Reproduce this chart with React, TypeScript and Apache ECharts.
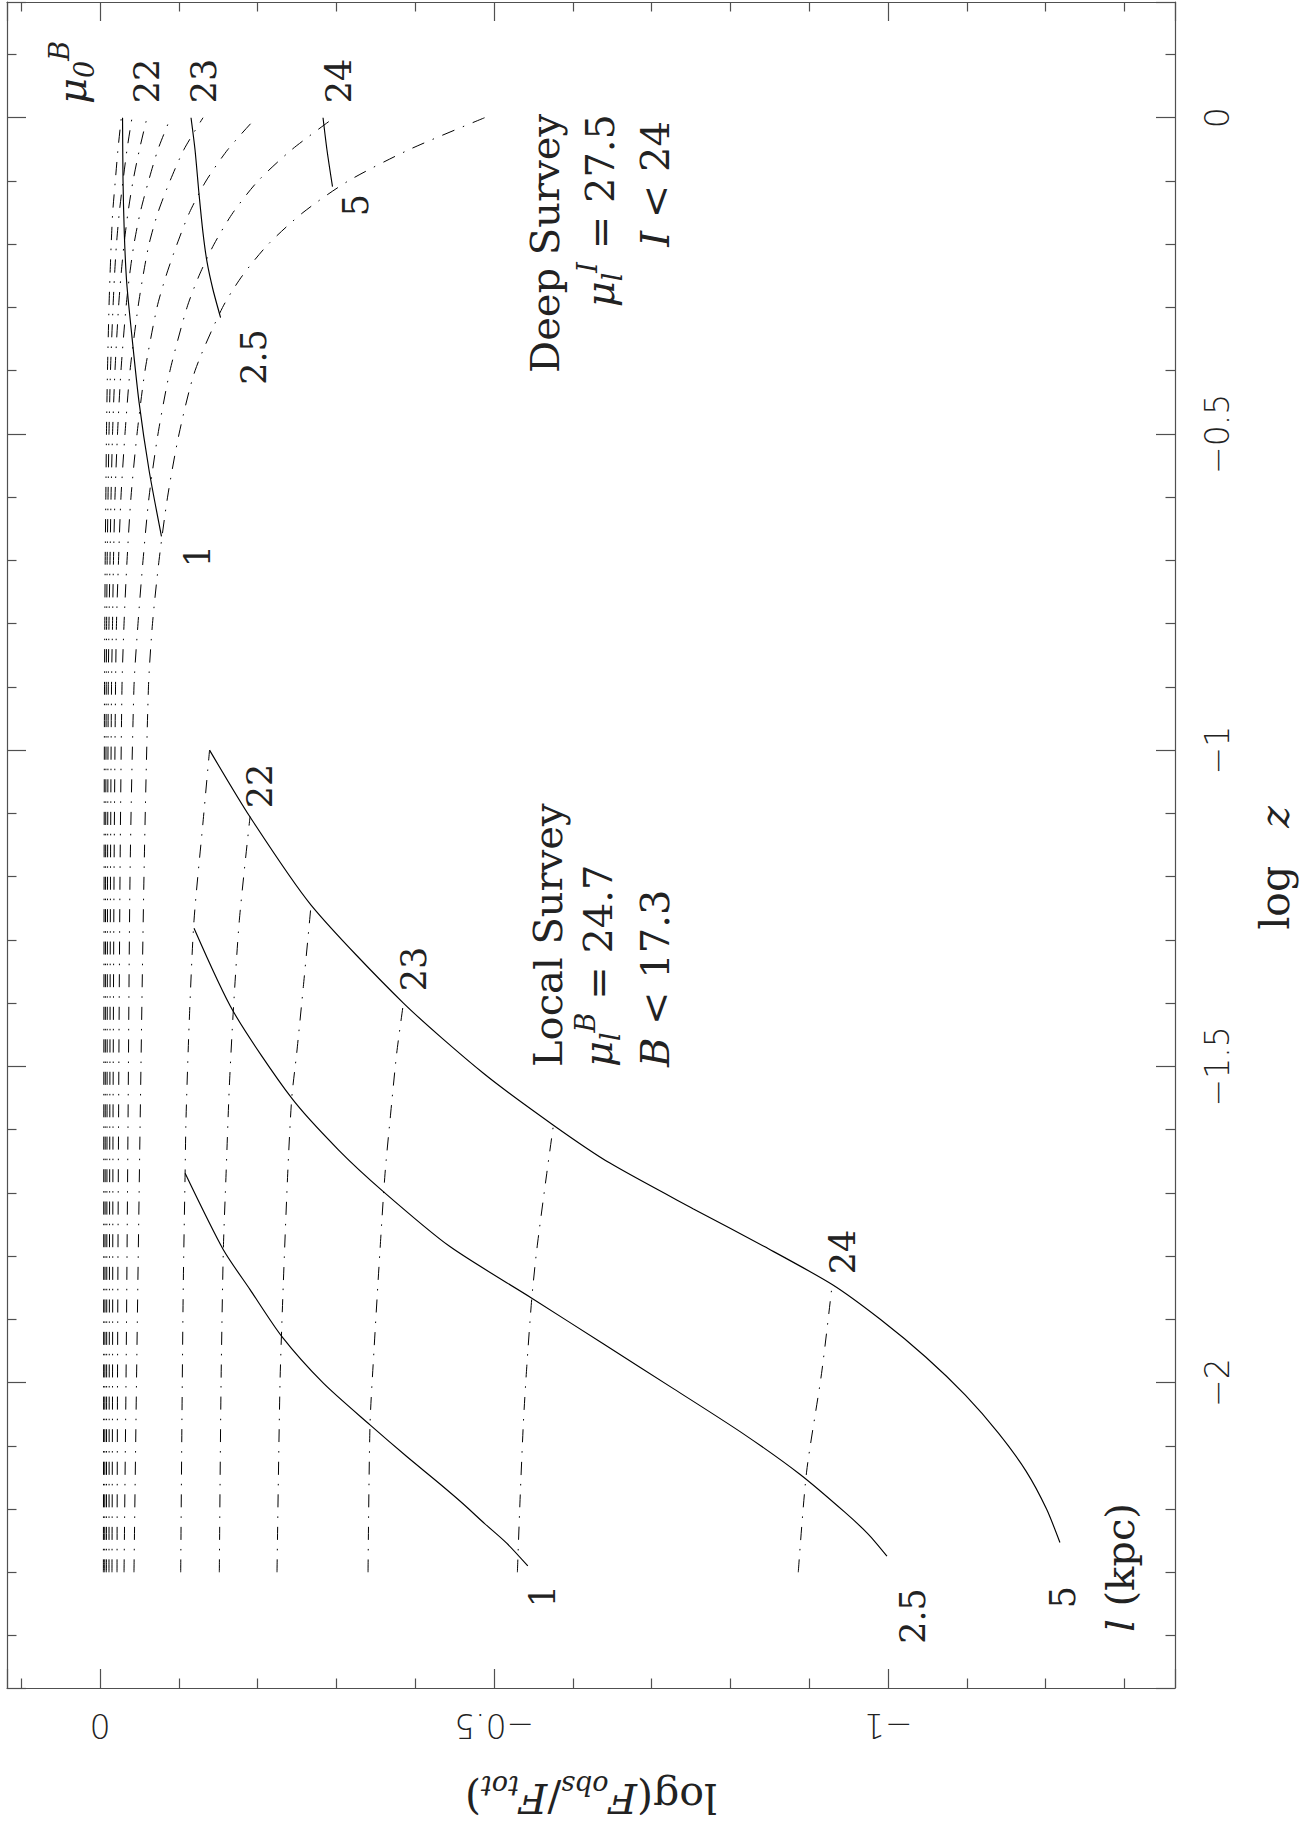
import React, { useEffect, useRef } from 'react';
import * as echarts from 'echarts';

// ---- axis ranges ----
const X_MIN = -1.364; // log(F_obs/F_tot), right edge
const X_MAX = 0.118; // left edge
const Y_MIN = -2.483; // log z, bottom edge
const Y_MAX = 0.183; // top edge

const X_TICK_LABELS = ['0', '\u22120.5', '\u22121'];
const Y_TICK_LABELS = ['0', '\u22120.5', '\u22121', '\u22121.5', '\u22122'];

// ---- Deep survey: curves of constant mu0 (B), sampled at these log z ----
const DEEP_LOGZ = [-2.3, -2.0, -1.6, -1.2, -0.9, -0.8, -0.7, -0.6, -0.5, -0.4, -0.3, -0.25, -0.2, -0.15, -0.1, -0.05, 0];
const DEEP_MU = ['21', '21.5', '22', '22.5', '23', '23.5', '24', '24.5'];
const DEEP_21 = [-0.0043, -0.0046, -0.0048, -0.0052, -0.0057, -0.0061, -0.0066, -0.0074, -0.0082, -0.0095, -0.0114, -0.0127, -0.0142, -0.0161, -0.0194, -0.0228, -0.027];
const DEEP_21_5 = [-0.006, -0.0062, -0.0066, -0.0071, -0.0079, -0.0084, -0.0091, -0.0102, -0.0114, -0.0133, -0.0165, -0.0184, -0.0209, -0.0245, -0.0292, -0.0343, -0.0406];
const DEEP_22 = [-0.0081, -0.0084, -0.0089, -0.0096, -0.0105, -0.0114, -0.0127, -0.014, -0.0159, -0.019, -0.0235, -0.0266, -0.0305, -0.0355, -0.0419, -0.0501, -0.0596];
const DEEP_22_5 = [-0.0114, -0.0117, -0.0124, -0.0133, -0.0146, -0.0159, -0.0171, -0.019, -0.0222, -0.0266, -0.033, -0.0374, -0.0431, -0.051, -0.0616, -0.0736, -0.0895];
const DEEP_23 = [-0.0152, -0.0159, -0.0165, -0.0178, -0.0197, -0.0209, -0.0235, -0.0266, -0.0317, -0.0381, -0.0482, -0.0546, -0.0622, -0.0735, -0.0888, -0.1066, -0.1307];
const DEEP_23_5 = [-0.0216, -0.0222, -0.0235, -0.0254, -0.0279, -0.0305, -0.0343, -0.0393, -0.047, -0.0571, -0.0723, -0.0838, -0.0977, -0.1135, -0.1345, -0.1624, -0.198];
const DEEP_24 = [-0.0305, -0.033, -0.0355, -0.0381, -0.0431, -0.0482, -0.0546, -0.0622, -0.0736, -0.0888, -0.1104, -0.1256, -0.1447, -0.1688, -0.2005, -0.2437, -0.297];
const DEEP_24_5 = [-0.0431, -0.0463, -0.0508, -0.0558, -0.0615, -0.0666, -0.0749, -0.0857, -0.1003, -0.1206, -0.1555, -0.1805, -0.2135, -0.2575, -0.3150, -0.3930, -0.4880];
const DEEP_X = [DEEP_21, DEEP_21_5, DEEP_22, DEEP_22_5, DEEP_23, DEEP_23_5, DEEP_24, DEEP_24_5];

// Deep survey: constant scale length l (kpc) limits  [logF, logz]
const DEEP_L1: number[][] = [[-0.0286, 0], [-0.0292, -0.0985], [-0.0308, -0.182], [-0.0339, -0.261], [-0.0406, -0.347], [-0.0495, -0.4494], [-0.0622, -0.557], [-0.078, -0.662]];
const DEEP_L2_5: number[][] = [[-0.1155, 0], [-0.1206, -0.051], [-0.1256, -0.12], [-0.1307, -0.182], [-0.1358, -0.228], [-0.1434, -0.272], [-0.153, -0.316]];
const DEEP_L5: number[][] = [[-0.283, 0], [-0.288, -0.051], [-0.295, -0.109]];

// ---- Local survey: constant mu0 lines [logF, logz] ----
const LOCAL_21_5: number[][] = [[-0.1024, -2.3], [-0.104, -2.054], [-0.1057, -1.843], [-0.108, -1.669], [-0.1091, -1.585], [-0.1133, -1.427], [-0.1193, -1.269], [-0.131, -1.11], [-0.139, -1.0]];
const LOCAL_22: number[][] = [[-0.1514, -2.3], [-0.1536, -2.001], [-0.1565, -1.79], [-0.16, -1.669], [-0.1641, -1.532], [-0.1692, -1.411], [-0.1768, -1.269], [-0.1904, -1.105]];
const LOCAL_22_5: number[][] = [[-0.2246, -2.3], [-0.2284, -2.001], [-0.2326, -1.843], [-0.2382, -1.669], [-0.2433, -1.55], [-0.2496, -1.479], [-0.258, -1.374], [-0.2678, -1.245]];
const LOCAL_23: number[][] = [[-0.3401, -2.3], [-0.3426, -2.067], [-0.3477, -1.948], [-0.3553, -1.79], [-0.3617, -1.669], [-0.368, -1.585], [-0.3765, -1.479], [-0.385, -1.4]];
const LOCAL_23_5: number[][] = [[-0.5296, -2.3], [-0.533, -2.185], [-0.5372, -2.064], [-0.5415, -1.975], [-0.5479, -1.8666], [-0.5542, -1.79], [-0.5669, -1.669], [-0.5753, -1.593]];
const LOCAL_24: number[][] = [[-0.886, -2.3], [-0.8965, -2.1417], [-0.9155, -1.986], [-0.929, -1.845]];

// Local survey: constant scale length l (kpc)
const LOCAL_L5: number[][] = [[-0.139, -1.0], [-0.19, -1.105], [-0.2678, -1.245], [-0.385, -1.4], [-0.4865, -1.511], [-0.5753, -1.593], [-0.647, -1.653], [-0.7524, -1.725], [-0.843, -1.785], [-0.929, -1.845], [-0.99, -1.9], [-1.048, -1.96], [-1.098, -2.02], [-1.14, -2.08], [-1.175, -2.14], [-1.201, -2.2], [-1.218, -2.253]];
const LOCAL_L2_5: number[][] = [[-0.1193, -1.2816], [-0.169, -1.413], [-0.243, -1.55], [-0.3025, -1.632], [-0.3595, -1.698], [-0.444, -1.785], [-0.5479, -1.8666], [-0.64, -1.94], [-0.728, -2.01], [-0.815, -2.08], [-0.888, -2.145], [-0.945, -2.205], [-0.975, -2.24], [-0.9985, -2.2745]];
const LOCAL_L1: number[][] = [[-0.108, -1.669], [-0.1565, -1.79], [-0.1904, -1.853], [-0.2306, -1.927], [-0.2834, -2.001], [-0.3426, -2.067], [-0.3892, -2.117], [-0.431, -2.16], [-0.461, -2.192], [-0.488, -2.223], [-0.516, -2.254], [-0.5428, -2.29]];

const LOCAL_MU = ['21.5', '22', '22.5', '23', '23.5', '24'];
const LOCAL_MU_LINES = [LOCAL_21_5, LOCAL_22, LOCAL_22_5, LOCAL_23, LOCAL_23_5, LOCAL_24];

// ---- styles ----
const FRAME = '#505050';
const INK = '#222';
const SERIF = '"DejaVu Serif", "Liberation Serif", serif';
const SANS = '"DejaVu Sans", sans-serif';
const DASHDOT = [13, 9, 1.5, 9];

function fmt(v: number): string {
  if (Math.abs(v) < 1e-9) return '0';
  const s = String(Math.round(Math.abs(v) * 100) / 100);
  return (v < 0 ? '\u2212' : '') + s;
}

function lineSeries(name: string, data: number[][], dashed: boolean) {
  return {
    type: 'line',
    name,
    data,
    showSymbol: false,
    symbol: 'none',
    silent: true,
    smooth: 0.25,
    clip: true,
    lineStyle: { color: '#000', width: dashed ? 1 : 1.15, type: dashed ? DASHDOT : 'solid' },
  };
}

const mathRich = {
  n: { fontFamily: SERIF, fontSize: 40, lineHeight: 52, fill: INK, color: INK },
  i: { fontFamily: SERIF, fontSize: 40, fontStyle: 'italic', lineHeight: 52, fill: INK, color: INK },
  sup: { fontFamily: SERIF, fontSize: 27, fontStyle: 'italic', lineHeight: 26, verticalAlign: 'top', fill: INK, color: INK },
  sub: { fontFamily: SERIF, fontSize: 27, fontStyle: 'italic', lineHeight: 24, verticalAlign: 'bottom', fill: INK, color: INK },
};

const nameRich = {
  n: { fontFamily: SERIF, fontSize: 41, lineHeight: 52, color: INK },
  i: { fontFamily: SERIF, fontSize: 41, fontStyle: 'italic', lineHeight: 52, color: INK },
  sub: { fontFamily: SERIF, fontSize: 27, fontStyle: 'italic', lineHeight: 24, verticalAlign: 'bottom', color: INK },
};

function vText(text: string, x: number, y: number, align: string, size = 35, rich?: any) {
  return {
    type: 'text',
    x,
    y,
    rotation: Math.PI / 2,
    silent: true,
    style: {
      text,
      x: 0,
      y: 0,
      fill: INK,
      font: `${size}px ${SERIF}`,
      align,
      verticalAlign: 'middle',
      textAlign: align,
      textVerticalAlign: 'middle',
      rich,
    },
  };
}

const tickCommon = {
  type: 'value',
  minInterval: 0.5,
  maxInterval: 0.5,
  splitNumber: 3,
  axisLine: { show: true, onZero: false, lineStyle: { color: FRAME, width: 1.2 } },
  axisTick: { show: true, inside: true, length: 19, lineStyle: { color: FRAME, width: 1.2 } },
  minorTick: { show: true, splitNumber: 5, length: 9.5, lineStyle: { color: FRAME, width: 1.2 } },
  splitLine: { show: false },
  minorSplitLine: { show: false },
};

function buildOption() {
  const series: any[] = [];
  DEEP_MU.forEach((mu, k) => {
    series.push(lineSeries('deep mu0=' + mu, DEEP_LOGZ.map((z, i) => [DEEP_X[k][i], z]), true));
  });
  series.push(lineSeries('deep l=1', DEEP_L1, false));
  series.push(lineSeries('deep l=2.5', DEEP_L2_5, false));
  series.push(lineSeries('deep l=5', DEEP_L5, false));
  LOCAL_MU.forEach((mu, k) => {
    series.push(lineSeries('local mu0=' + mu, LOCAL_MU_LINES[k], true));
  });
  series.push(lineSeries('local l=1', LOCAL_L1, false));
  series.push(lineSeries('local l=2.5', LOCAL_L2_5, false));
  series.push(lineSeries('local l=5', LOCAL_L5, false));

  const graphic: any[] = [
    // deep survey labels (mu0 values and l values)
    vText('22', 147, 81, 'center'),
    vText('23', 204, 81, 'center'),
    vText('24', 339, 81, 'center'),
    vText('5', 356, 205, 'center'),
    vText('2.5', 254, 357, 'center'),
    vText('1', 198, 556, 'center'),
    vText('{i|\u03bc}{sub|0}{sup|B}', 72, 104, 'left', 40, mathRich),
    // deep survey block
    vText('Deep Survey', 545, 114, 'right', 40),
    vText('{i|\u03bc}{sub|l}{sup|I}{n| = 27.5}', 600, 114, 'right', 40, mathRich),
    vText('{i|I}{n| < 24}', 655, 121, 'right', 40, mathRich),
    // local survey block
    vText('Local Survey', 548, 1067, 'left', 40),
    vText('{i|\u03bc}{sub|l}{sup|B}{n| = 24.7}', 598, 1067, 'left', 40, mathRich),
    vText('{i|B}{n| < 17.3}', 655, 1067, 'left', 40, mathRich),
    // local survey line labels
    vText('22', 260, 786, 'center'),
    vText('23', 414, 969, 'center'),
    vText('24', 843, 1252, 'center'),
    vText('1', 543, 1596, 'center'),
    vText('2.5', 913, 1616, 'center'),
    vText('5', 1063, 1597, 'center'),
    vText('{i|l}{n| (kpc)}', 1120, 1632, 'left', 40, mathRich),
  ];

  return {
    animation: false,
    backgroundColor: '#fff',
    grid: { left: 7, top: 2, width: 1168, height: 1686, show: false },
    xAxis: [
      {
        ...tickCommon,
        position: 'bottom',
        inverse: true,
        min: X_MIN,
        max: X_MAX,
        name: '{n|log(}{i|F}{sub|obs}{n|/}{i|F}{sub|tot}{n|)}',
        nameLocation: 'middle',
        nameRotate: 180,
        nameGap: 84,
        nameTextStyle: { rich: nameRich },
        axisLabel: {
          show: true,
          rotate: 180,
          margin: 21,
          interval: 0,
          showMinLabel: false,
          showMaxLabel: false,
          color: INK,
          fontFamily: SANS,
          fontSize: 33,
          fontWeight: 200,
          formatter: (v: number) => (X_TICK_LABELS.includes(fmt(v)) ? fmt(v) : ''),
        },
      },
      {
        ...tickCommon,
        position: 'top',
        inverse: true,
        min: X_MIN,
        max: X_MAX,
        axisLabel: { show: false },
      },
    ],
    yAxis: [
      {
        ...tickCommon,
        position: 'right',
        min: Y_MIN,
        max: Y_MAX,
        name: '{n|log}{sp|}{i|z}',
        nameLocation: 'middle',
        nameRotate: 90,
        nameGap: 74,
        nameTextStyle: {
          padding: [0, 46, 0, 0],
          rich: { ...nameRich, sp: { width: 38, lineHeight: 52 } },
        },
        axisLabel: {
          show: true,
          rotate: 90,
          margin: 26,
          interval: 0,
          showMinLabel: false,
          showMaxLabel: false,
          color: INK,
          fontFamily: SANS,
          fontSize: 33,
          fontWeight: 200,
          formatter: (v: number) => (Y_TICK_LABELS.includes(fmt(v)) ? fmt(v) : ''),
        },
      },
      {
        ...tickCommon,
        position: 'left',
        min: Y_MIN,
        max: Y_MAX,
        axisLabel: { show: false },
      },
    ],
    series,
    graphic,
  };
}

export default function App() {
  const ref = useRef<HTMLDivElement>(null);
  useEffect(() => {
    if (!ref.current) return;
    const chart = echarts.init(ref.current, null, { renderer: 'svg' });
    chart.setOption(buildOption() as any);
    return () => {
      chart.dispose();
    };
  }, []);
  return (
    <div style={{ position: 'absolute', left: 0, top: 0, width: 1312, height: 1827, background: '#fff' }}>
      <div ref={ref} style={{ width: 1312, height: 1827 }} />
    </div>
  );
}
